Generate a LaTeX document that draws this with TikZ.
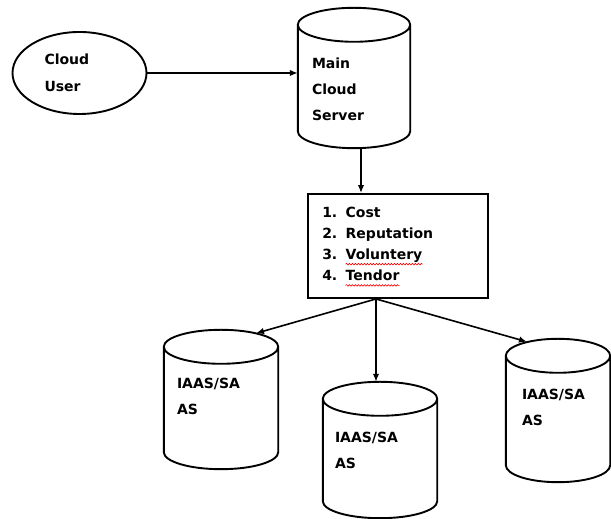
\documentclass[tikz,border=0pt]{standalone}
\usepackage{fontspec}
\setmainfont{DejaVu Sans}
\usepackage{tikz}
\usetikzlibrary{calc,shapes.geometric,arrows.meta,decorations.pathmorphing}

% outline of a drum (cylinder) round a named placeholder node
\newcommand{\drum}[1]{%
  \draw[outline] let \p1=(#1.north west), \p2=(#1.south east), \n1={(\x2-\x1)/2} in
    (\x1,\y1-17pt) -- (\x1,\y2+17pt)
    arc[start angle=180, end angle=360, x radius=\n1, y radius=17pt]
    -- (\x2,\y1-17pt)
    arc[start angle=0, end angle=360, x radius=\n1, y radius=17pt];}

\tikzset{
  outline/.style={line width=1.9pt},
  drumbox/.style={inner sep=0pt},
  lbl/.style={inner sep=0pt, align=left, font=\fontsize{14}{26}\selectfont\bfseries},
  item/.style={inner sep=0pt, font=\fontsize{14}{21}\selectfont\bfseries},
  conn/.style={line width=1.6pt, -{Latex[length=8pt,width=6.5pt]}},
  wave/.style={red, line width=0.6pt, decorate, decoration={snake, amplitude=0.8pt, segment length=3pt}}
}

\begin{document}
\begin{tikzpicture}[x=1pt, y=1pt]
  \useasboundingbox (0,0) rectangle (611,519);

  % user and main server
  \node[draw, ellipse, outline, minimum width=134pt, minimum height=82pt, text width=70pt, align=left,
    font=\fontsize{14}{27}\selectfont\bfseries] (cu) at (79.5,446) {Cloud\\User};
  \node[drumbox, minimum width=112pt, minimum height=140pt] (mcs) at (354,441) {};
  \drum{mcs}
  \node[lbl, anchor=north west] (mcslbl) at ([xshift=14pt,yshift=-49.5pt]mcs.north west) {Main\\Cloud\\Server};

  % selection criteria
  \node[draw, outline, minimum width=180pt, minimum height=104pt] (crit) at (398,273) {};
  \foreach \i/\w in {1/Cost, 2/Reputation, 3/Voluntery, 4/Tendor} {
    \node[item, anchor=base west] (n\i) at ($(crit.north west)+(15,-24-21.3*\i+21.3)$) {\i.};
    \node[item, anchor=base west] (w\i) at ($(n\i.base east)+(8,0)$) {\w};
  }
  \foreach \i in {3,4}
    \draw[wave] ([yshift=-4.5pt]w\i.base west) -- ([yshift=-4.5pt]w\i.base east);

  % providers
  \node[drumbox, minimum width=114pt, minimum height=139pt] (srv1) at (221,119.5) {};
  \node[drumbox, minimum width=114pt, minimum height=136pt] (srv2) at (380,69) {};
  \node[drumbox, minimum width=104pt, minimum height=143pt] (srv3) at (558,108.5) {};
  \drum{srv1}
  \drum{srv2}
  \drum{srv3}
  \node[lbl, anchor=north west] (srv1lbl) at ([xshift=13pt,yshift=-48pt]srv1.north west) {IAAS/SA\\AS};
  \node[lbl, anchor=north west] (srv2lbl) at ([xshift=12pt,yshift=-50pt]srv2.north west) {IAAS/SA\\AS};
  \node[lbl, anchor=north west] (srv3lbl) at ([xshift=16pt,yshift=-50pt]srv3.north west) {IAAS/SA\\AS};

  % connectors
  \coordinate (mcsout) at ([xshift=7pt]mcs.south);
  \coordinate (fork) at ([xshift=-22pt]crit.south);
  \draw[conn] (cu.east) -- (cu.east -| mcs.west);
  \draw[conn] (mcsout) -- (mcsout |- crit.north);
  \draw[conn] (fork) -- ([xshift=35pt,yshift=-3.5pt]srv1.north);
  \draw[conn] (fork) -- (fork |- srv2.north);
  \draw[conn] (fork) -- ([xshift=-31pt,yshift=-3pt]srv3.north);
\end{tikzpicture}
\end{document}
